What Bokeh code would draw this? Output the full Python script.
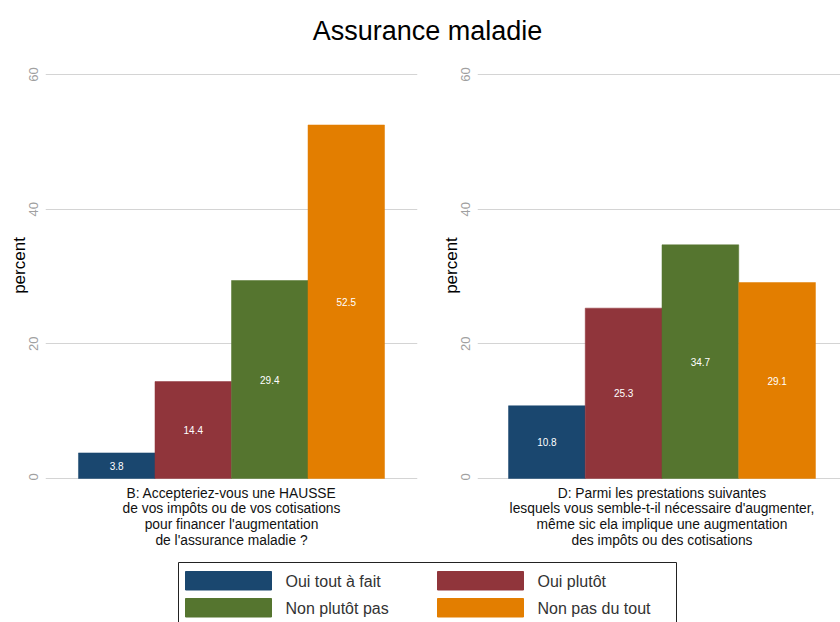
from bokeh.plotting import figure
from bokeh.layouts import column, row
from bokeh.models import Range1d, FixedTicker, ColumnDataSource
from bokeh.core.properties import value
from bokeh.embed import file_html
from bokeh.resources import INLINE

title_text = "Assurance maladie"
categories = ["Oui tout à fait", "Oui plutôt", "Non plutôt pas", "Non pas du tout"]
colors = ["#1a476f", "#90353b", "#55752f", "#e37e00"]
question_b = ("B: Accepteriez-vous une HAUSSE\nde vos impôts ou de vos cotisations\n"
              "pour financer l'augmentation\nde l'assurance maladie ?")
question_d = ("D: Parmi les prestations suivantes\nlesquels vous semble-t-il nécessaire d'augmenter,\n"
              "même sic ela implique une augmentation\ndes impôts ou des cotisations")
values_b = [3.8, 14.4, 29.4, 52.5]
values_d = [10.8, 25.3, 34.7, 29.1]
y_ticks = [0, 20, 40, 60]
y_label = "percent"

FONT = value("Liberation Sans")


def panel(vals, question, width, border_left, border_right, x_start, x_end):
    xr = Range1d(x_start, x_end)
    p = figure(width=width, height=430, output_backend="svg", toolbar_location=None,
               x_range=xr, y_range=Range1d(-0.297, 63.56),
               x_axis_type=None, min_border_left=border_left, min_border_right=border_right,
               min_border_top=0, min_border_bottom=0)
    p.outline_line_color = None
    p.xgrid.visible = False
    p.yaxis.ticker = FixedTicker(ticks=y_ticks)
    p.ygrid.ticker = FixedTicker(ticks=y_ticks)
    p.ygrid.grid_line_color = "#d4d4d4"
    p.ygrid.grid_line_width = 1
    ax = p.yaxis[0]
    ax.axis_line_color = None
    ax.major_tick_line_color = None
    ax.minor_tick_line_color = None
    ax.major_tick_out = 0
    ax.major_tick_in = 0
    ax.major_label_orientation = "vertical"
    ax.major_label_text_color = "#a0a0a0"
    ax.major_label_text_font = "Liberation Sans"
    ax.major_label_text_font_size = "13px"
    ax.major_label_standoff = 7
    ax.axis_label = y_label
    ax.axis_label_text_font = "Liberation Sans"
    ax.axis_label_text_font_style = "normal"
    ax.axis_label_text_font_size = "17px"
    ax.axis_label_text_color = "#000000"
    ax.axis_label_standoff = -2

    xs = list(range(len(vals)))
    src = ColumnDataSource(dict(x=xs, top=vals, color=colors,
                                mid=[v / 2 for v in vals],
                                lab=["%.1f" % v for v in vals]))
    p.vbar(x="x", top="top", bottom=0, width=1.0, fill_color="color",
           line_color="color", line_width=0.5, source=src)
    p.text(x="x", y="mid", text="lab", source=src, text_color="white",
           text_align="center", text_baseline="middle",
           text_font=FONT, text_font_size="10px")

    q = figure(width=width, height=73, output_backend="svg", toolbar_location=None,
               x_range=xr, y_range=Range1d(0, 1), x_axis_type=None, y_axis_type=None,
               min_border_left=border_left, min_border_right=border_right,
               min_border_top=0, min_border_bottom=0)
    q.outline_line_color = None
    q.grid.visible = False
    q.text(x=[(len(vals) - 1) / 2], y=[1], text=[question], text_align="center",
           text_baseline="top", y_offset=5, text_line_height=1.05,
           text_font=FONT, text_font_size="13.8px", text_color="#111111")
    return p, q


p1, q1 = panel(values_b, question_b, 430, 45, 13, -0.931, 3.931)
p2, q2 = panel(values_d, question_d, 410, 47, 0, -0.904, 3.826)

top = figure(width=840, height=50, output_backend="svg", toolbar_location=None,
             x_range=Range1d(0, 840), y_range=Range1d(50, 0),
             x_axis_type=None, y_axis_type=None, min_border=0)
top.outline_line_color = None
top.grid.visible = False
top.text(x=[427], y=[30], text=[title_text], text_align="center", text_baseline="middle",
         text_font=FONT, text_font_size="27px", text_color="#000000")

leg = figure(width=840, height=69, output_backend="svg", toolbar_location=None,
             x_range=Range1d(0, 840), y_range=Range1d(622, 553),
             x_axis_type=None, y_axis_type=None, min_border=0)
leg.outline_line_color = None
leg.grid.visible = False
leg.quad(left=[178], right=[676], top=[562], bottom=[640], fill_color=None,
         line_color="#222222", line_width=1)
cols = [i % 2 for i in range(len(categories))]
rows = [i // 2 for i in range(len(categories))]
sw_left = [185 + 252 * c for c in cols]
sw_top = [571 + 27 * r for r in rows]
lsrc = ColumnDataSource(dict(left=sw_left, right=[l + 86 for l in sw_left],
                             top=sw_top, bottom=[t + 18.5 for t in sw_top],
                             tx=[l + 100 for l in sw_left], ty=[t + 9.5 for t in sw_top],
                             color=colors, label=categories))
leg.quad(left="left", right="right", top="top", bottom="bottom", fill_color="color",
         line_color="color", source=lsrc)
leg.text(x="tx", y="ty", text="label", source=lsrc, text_align="left",
         text_baseline="middle", text_font=FONT, text_font_size="16px",
         text_color="#333333")

layout = column(top, row(p1, p2), row(q1, q2), leg)
open("out.html", "w").write(file_html(layout, INLINE))
